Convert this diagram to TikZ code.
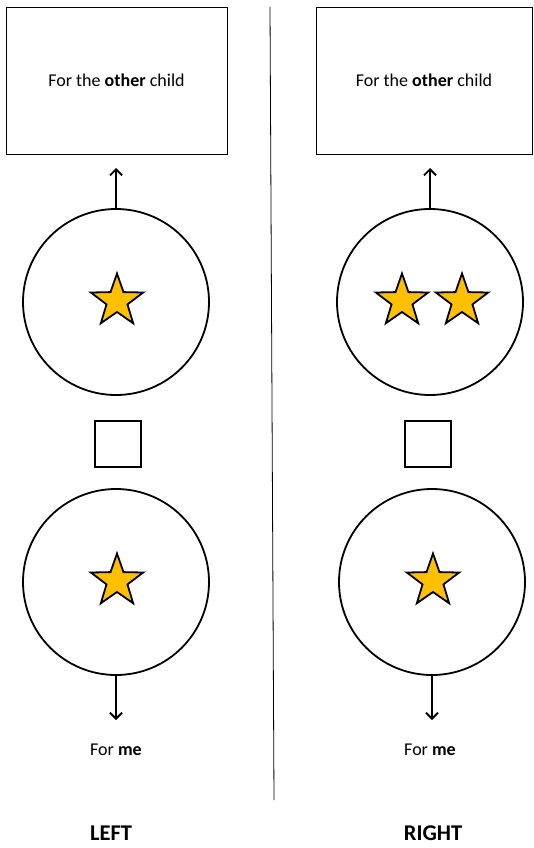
\documentclass[tikz,border=0pt]{standalone}
\usepackage{fontspec}
\setmainfont{Carlito}
\usetikzlibrary{shapes.geometric,arrows.meta,positioning}
\definecolor{stargold}{HTML}{FFC000}

\begin{document}
\begin{tikzpicture}[
        x=1pt, y=-1pt,
        card/.style={draw, line width=0.8pt, minimum width=221pt, minimum height=147pt, font=\fontsize{18}{21}\selectfont},
        bowl/.style={draw, circle, line width=1.8pt, minimum size=186pt, inner sep=0pt},
        token/.style={draw, star, star points=5, star point ratio=2.5, fill=stargold, line width=1.8pt, minimum size=55pt, inner sep=0pt},
        pick/.style={draw, line width=2.2pt, minimum size=46pt, inner sep=0pt},
        label/.style={font=\fontsize{18}{21}\selectfont},
        side/.style={font=\bfseries\fontsize{22.5}{26}\selectfont},
        arrow/.style={draw, line width=1.8pt, -{Straight Barb[length=6pt,width=12pt]}}
    ]
        \useasboundingbox (0,0) rectangle (533,848);

        % Divider
        \coordinate (divtop) at (270,7);
        \coordinate (divbot) at (274,800);
        \draw [line width=0.8pt] (divtop) -- (divbot);

        % Left side
        \node (lother) [card] at (116.5,80.5) {For the \textbf{other} child};
        \node (lup) [bowl] at (116,302) {};
        \node (lstar1) [token] at (117,301) {};
        \node (lbox) [pick] at (118,444) {};
        \node (ldown) [bowl] at (116,582) {};
        \node (lstar2) [token] at (117,581) {};
        \node (lme) [label] at (116,750) {For \textbf{me}};
        \node (lname) [side] at (111,833) {LEFT};
        \coordinate (lto) at (116,168);
        \coordinate (lfrom) at (116,720);

        % Right side
        \node (rother) [card, minimum width=216pt] at (424,80.5) {For the \textbf{other} child};
        \node (rup) [bowl] at (430,302) {};
        \node (rstar1) [token] at (402,301) {};
        \node (rstar2) [token] at (462,301) {};
        \node (rbox) [pick] at (428,444) {};
        \node (rdown) [bowl] at (432,582) {};
        \node (rstar3) [token] at (433,581) {};
        \node (rme) [label] at (430,750) {For \textbf{me}};
        \node (rname) [side] at (433,833) {RIGHT};
        \coordinate (rto) at (430,168);
        \coordinate (rfrom) at (432,720);

        % Connections
        \draw [arrow] (lup.north) -- (lto);
        \draw [arrow] (ldown.south) -- (lfrom);
        \draw [arrow] (rup.north) -- (rto);
        \draw [arrow] (rdown.south) -- (rfrom);

    \end{tikzpicture}
\end{document}
